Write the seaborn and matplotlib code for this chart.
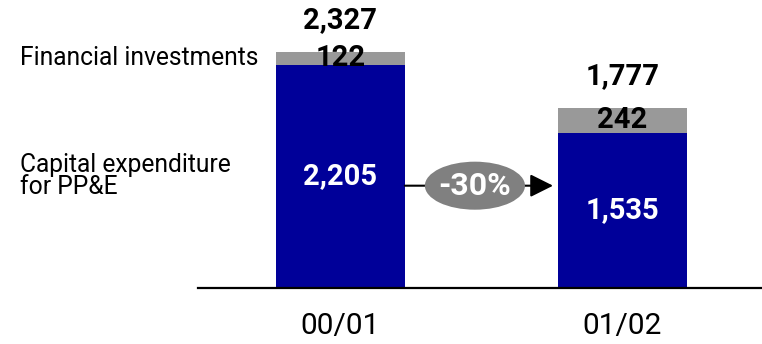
import matplotlib
matplotlib.use("Agg")
import matplotlib.pyplot as plt
from matplotlib.patches import Ellipse
import seaborn as sns
import pandas as pd

periods = ["00/01", "01/02"]
capex = [2205, 1535]
fin_inv = [122, 242]
totals = [2327, 1777]
change_label = "-30%"
series_labels = ["Financial investments", "Capital expenditure\nfor PP&E"]

BLUE = "#000099"
GRAY = "#999999"
ELL = "#808080"

sns.set_theme(style="white")
plt.rcParams["font.family"] = ["Roboto", "DejaVu Sans"]

df = pd.DataFrame({"period": periods, "capex": capex, "fin": fin_inv, "total": totals})

fig = plt.figure(figsize=(7.62, 3.44), dpi=100)
ax = fig.add_axes([198 / 762, 56 / 344, 564 / 762, 288 / 344])

bw = 0.457
sns.barplot(data=df, x="period", y="total", color=GRAY, width=bw, saturation=1, ax=ax, linewidth=0)
sns.barplot(data=df, x="period", y="capex", color=BLUE, width=bw, saturation=1, ax=ax, linewidth=0)

ax.set_xlim(-0.505, 1.495)
ax.set_ylim(0, 2843)
ax.set_xlabel("")
ax.set_ylabel("")
ax.set_yticks([])
for s in ["top", "right", "left"]:
    ax.spines[s].set_visible(False)
ax.spines["bottom"].set_color("black")
ax.spines["bottom"].set_linewidth(1.6)
ax.tick_params(axis="x", length=0, pad=17, labelsize=21.5, labelcolor="black")

for i in range(len(periods)):
    ax.annotate(f"{totals[i]:,}", (i, totals[i]), xytext=(0, 23), textcoords="offset points",
                ha="center", va="center", fontsize=21, fontweight="bold", color="black")
    ax.text(i, capex[i] + fin_inv[i] / 2, f"{fin_inv[i]:,}", ha="center", va="center",
            fontsize=21, fontweight="bold", color="black")
    ax.text(i, capex[i] / 2, f"{capex[i]:,}", ha="center", va="center",
            fontsize=21, fontweight="bold", color="white")

# arrow with change label
y_arr = 1010
ax.annotate("", xy=(0.754, y_arr), xytext=(bw / 2, y_arr),
            arrowprops=dict(arrowstyle="-|>", color="black", lw=1.5, mutation_scale=35,
                            shrinkA=0, shrinkB=0))
ax.add_patch(Ellipse((0.477, y_arr), 0.355, 474, facecolor=ELL, edgecolor="none", zorder=5))
ax.text(0.477, y_arr, change_label, ha="center", va="center", fontsize=23,
        fontweight="bold", color="white", zorder=6)

fig.text(20 / 762, 1 - 58 / 344, series_labels[0], ha="left", va="center", fontsize=17.7, color="black")
fig.text(20 / 762, 1 - 176 / 344, series_labels[1], ha="left", va="center", fontsize=17.7,
         color="black", linespacing=0.85)

fig.savefig("out.png", dpi=100)
